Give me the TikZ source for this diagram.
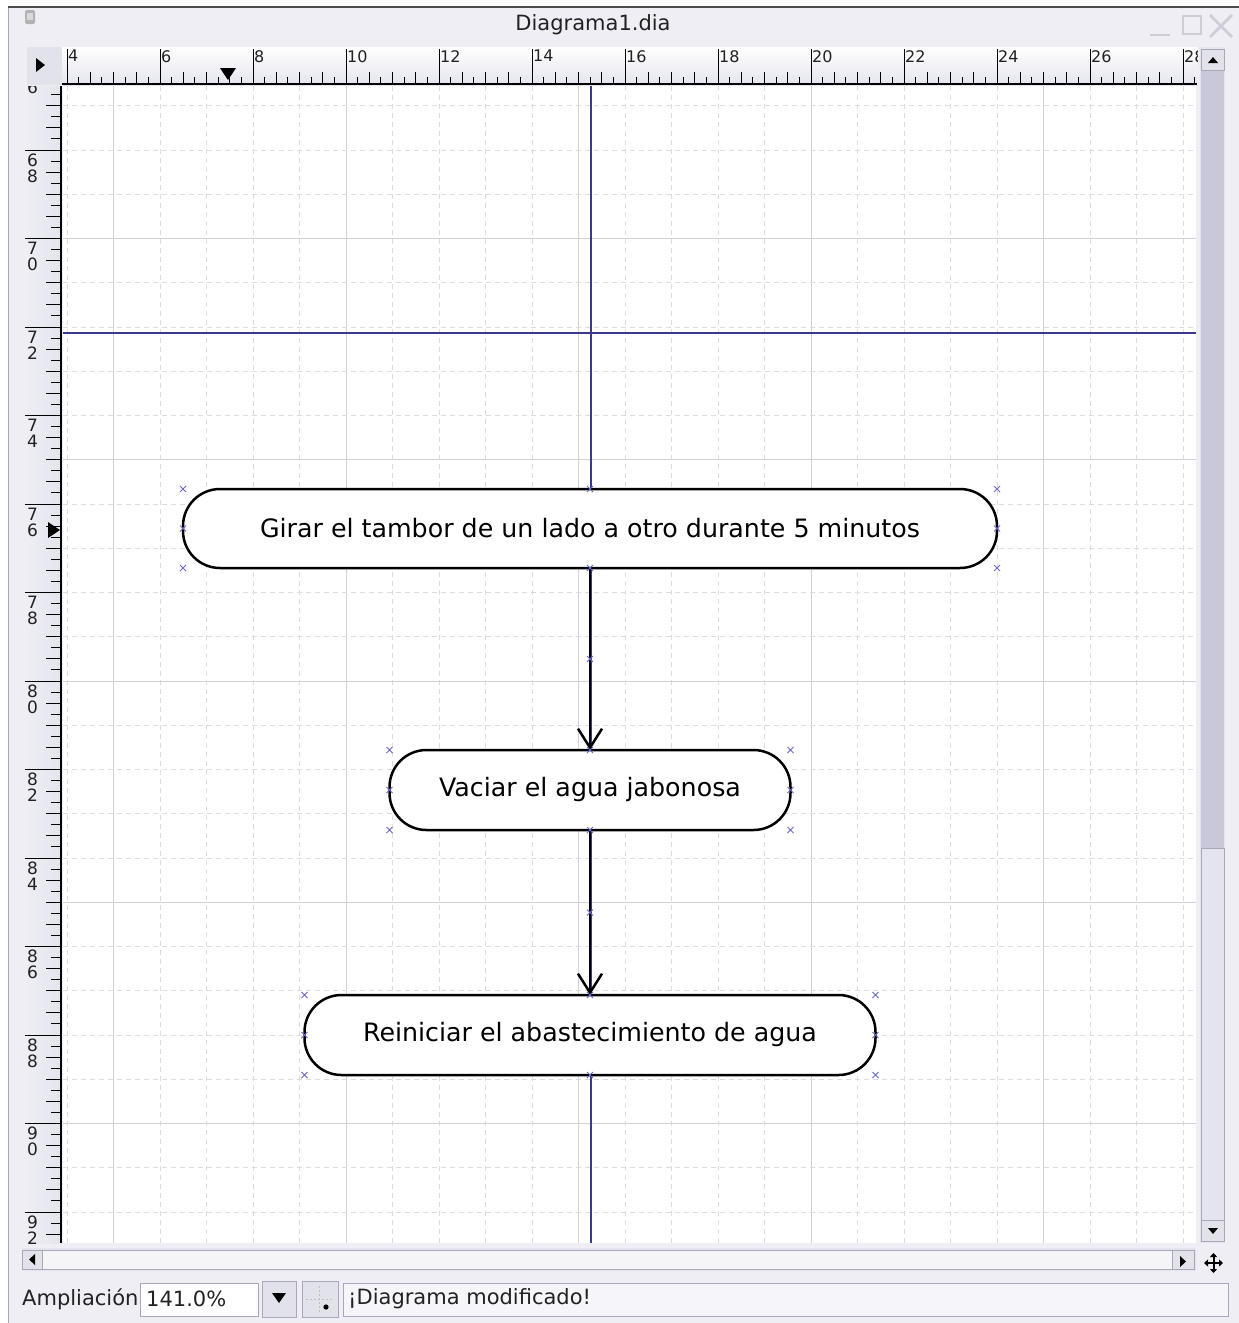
\documentclass[tikz,border=0pt]{standalone}
\usepackage{fontspec}
\setmainfont{DejaVu Sans}
\usetikzlibrary{arrows.meta,calc}

\definecolor{winbg}{HTML}{EEEEF4}
\definecolor{rulerbg}{HTML}{E4E4EE}
\definecolor{gridminorc}{HTML}{DCDCDC}
\definecolor{gridmajorc}{HTML}{D2D2D6}
\definecolor{guidec}{HTML}{3A3A88}
\definecolor{handlec}{HTML}{6A6AC8}
\definecolor{thumbc}{HTML}{C8C8DA}
\definecolor{troughc}{HTML}{E4E4EE}
\definecolor{btnc}{HTML}{E2E2EA}
\definecolor{framec}{HTML}{A8A8B8}
\definecolor{fadedc}{HTML}{CDCDD8}
\definecolor{uitext}{HTML}{222222}

\begin{document}
\begin{tikzpicture}[x=1pt,y=-1pt,
  flowbox/.style={draw=black, line width=2.5pt, fill=white, rounded corners=37pt,
    minimum height=79pt, inner sep=0pt, outer sep=0pt,
    font=\fontsize{25.3}{29}\selectfont, text=black},
  conn/.style={line width=2.5pt, -{Straight Barb[length=19pt,width=24pt,line width=2.5pt]}},
  rtick/.style={line width=1pt, black},
  rlabel/.style={inner sep=1pt, font=\fontsize{16}{16}\selectfont, text=uitext},
  vlabel/.style={inner sep=0pt, font=\fontsize{17}{17}\selectfont, text=uitext},
  gridminor/.style={gridminorc, line width=0.8pt, dash pattern=on 5pt off 4pt},
  gridmajor/.style={gridmajorc, line width=0.9pt},
  guide/.style={guidec, line width=1.2pt},
  handle/.style={handlec, line width=0.9pt},
  uilabel/.style={inner sep=0pt, font=\fontsize{21}{25}\selectfont, text=uitext},
  btn/.style={fill=btnc, draw=framec, line width=0.8pt},
  selx/.pic={\draw[handle] (-3,-3) -- (3,3) (-3,3) -- (3,-3);}
]
\useasboundingbox (0,0) rectangle (1239,1323);

% window background and frame
\fill[white] (0,0) rectangle (1239,1323);
\fill[winbg] (8,7) rectangle (1239,1323);
\draw[framec, line width=1pt] (8,1323) -- (8,7);
\draw[black!70, line width=1.2pt] (8,7) -- (1239,7);

% title bar
\fill[black!30, rounded corners=2pt] (25,10) rectangle (35,24);
\fill[black!15] (27,13) rectangle (33,20);
\node[uilabel] (title) at (593,25) {Diagrama1.dia};
\draw[fadedc, line width=2.5pt] (1150,35) -- (1170,35);
\draw[fadedc, line width=2.5pt] (1183,16) rectangle (1201,34);
\draw[fadedc, line width=2.5pt] (1210,15) -- (1232,37) (1232,15) -- (1210,37);

% canvas with grid
\begin{scope}
  \clip (63,86) rectangle (1196,1243);
  \fill[white] (63,86) rectangle (1196,1243);
  \foreach \u in {4,...,28} {
    \pgfmathsetmacro\xx{67+46.5*(\u-4)}
    \pgfmathtruncatemacro\m{mod(\u,5)}
    \ifnum\m=0
      \draw[gridmajor] (\xx,86) -- (\xx,1243);
    \else
      \draw[gridminor] (\xx,86) -- (\xx,1243);
    \fi
  }
  \foreach \u in {67,...,92} {
    \pgfmathsetmacro\yy{150+44.25*(\u-68)}
    \pgfmathtruncatemacro\m{mod(\u,5)}
    \ifnum\m=0
      \draw[gridmajor] (63,\yy) -- (1196,\yy);
    \else
      \draw[gridminor] (63,\yy) -- (1196,\yy);
    \fi
  }
  % guide lines
  \draw[guide] (591,86) -- (591,1243);
  \draw[guide] (63,333) -- (1196,333);
\end{scope}

% top ruler
\fill[btnc] (27,47) rectangle (62,85);
\fill[black] (36,58) -- (36,72) -- (45,65) -- cycle;
\begin{scope}
  \clip (62,47) rectangle (1197,85);
  \fill[top color=white, bottom color=rulerbg] (62,47) rectangle (1197,85);
  \foreach \i in {0,...,102} {
    \pgfmathsetmacro\xx{67+11.625*(\i-4)}
    \pgfmathtruncatemacro\mm{mod(\i,8)}
    \pgfmathtruncatemacro\mq{mod(\i,2)}
    \ifnum\mm=4
      \draw[rtick] (\xx,84) -- (\xx,49);
      \pgfmathtruncatemacro\lab{3+\i/4}
      \node[rlabel, anchor=north west] (top\i) at (\xx,49) {\lab};
    \else
      \ifnum\mq=0
        \draw[rtick] (\xx,84) -- (\xx,72);
      \else
        \draw[rtick] (\xx,84) -- (\xx,77);
      \fi
    \fi
  }
  \draw[line width=1.4pt] (62,84) -- (1197,84);
  \fill[black] (220,68) -- (236,68) -- (228,80) -- cycle;
\end{scope}

% left ruler
\begin{scope}
  \clip (22,86) rectangle (62,1243);
  \fill[left color=rulerbg!60, right color=rulerbg] (22,86) rectangle (62,1243);
  \foreach \j in {0,...,107} {
    \pgfmathsetmacro\yy{61.5+11.0625*\j}
    \pgfmathtruncatemacro\mm{mod(\j,8)}
    \pgfmathtruncatemacro\mq{mod(\j,2)}
    \ifnum\mm=0
      \draw[rtick] (61,\yy) -- (25,\yy);
      \pgfmathtruncatemacro\uu{66+\j/4}
      \pgfmathtruncatemacro\da{\uu/10}
      \pgfmathtruncatemacro\db{mod(\uu,10)}
      \node[vlabel] (lefta\j) at (32.5,\yy+10) {\da};
      \node[vlabel] (leftb\j) at (32.5,\yy+26) {\db};
    \else
      \ifnum\mq=0
        \draw[rtick] (61,\yy) -- (46,\yy);
      \else
        \draw[rtick] (61,\yy) -- (51,\yy);
      \fi
    \fi
  }
  \draw[line width=1.4pt] (61,86) -- (61,1243);
  \fill[black] (48,522) -- (48,538) -- (60,530) -- cycle;
\end{scope}

% vertical scrollbar
\fill[troughc] (1200,47) rectangle (1225,1243);
\fill[thumbc] (1201,70) rectangle (1224,848);
\draw[framec, line width=0.8pt] (1201,848) rectangle (1224,1220);
\draw[btn] (1201,49) rectangle (1224,70);
\fill[black] (1208,63) -- (1218,63) -- (1213,57) -- cycle;
\draw[btn] (1201,1220) rectangle (1224,1241);
\fill[black] (1208,1228) -- (1218,1228) -- (1213,1234) -- cycle;

% horizontal scrollbar
\fill[troughc] (22,1248) rectangle (1196,1271);
\draw[framec, line width=0.8pt, fill=winbg!60] (42,1250) rectangle (1172,1269);
\draw[btn] (22,1250) rectangle (42,1269);
\fill[black] (35,1254) -- (35,1265) -- (29,1259.5) -- cycle;
\draw[btn] (1172,1250) rectangle (1194,1269);
\fill[black] (1180,1256) -- (1180,1267) -- (1186,1261.5) -- cycle;
% move handle
\draw[line width=2pt, {Triangle[length=4pt,width=7pt]}-{Triangle[length=4pt,width=7pt]}] (1204,1263) -- (1223,1263);
\draw[line width=2pt, {Triangle[length=4pt,width=7pt]}-{Triangle[length=4pt,width=7pt]}] (1213.5,1253) -- (1213.5,1273);

% status bar
\node[uilabel, anchor=west] (zoomlbl) at (22,1299) {Ampliación};
\draw[fill=white, draw=framec, line width=0.8pt] (140,1283) rectangle (258,1316);
\node[uilabel, anchor=west] (zoomval) at (146,1299) {141.0\%};
\draw[btn] (262,1281) rectangle (296,1317);
\fill[black] (272,1293) -- (286,1293) -- (279,1303) -- cycle;
\draw[btn] (302,1281) rectangle (338,1317);
\draw[black!25, line width=1pt, dash pattern=on 2pt off 2pt] (319,1286) -- (319,1312) (306,1299) -- (334,1299);
\fill[black] (326,1307) circle (2.6);
\draw[fill=winbg!50, draw=framec, line width=0.8pt] (343,1283) rectangle (1228,1316);
\node[uilabel, anchor=west] (status) at (348,1299) {¡Diagrama modificado!};

% flowchart
\node[flowbox, minimum width=814pt] (n1) at (590,528.5) {Girar el tambor de un lado a otro durante 5 minutos};
\node[flowbox, minimum width=401pt, minimum height=80pt] (n2) at (590,790) {Vaciar el agua jabonosa};
\node[flowbox, minimum width=571pt, minimum height=80pt] (n3) at (590,1035) {Reiniciar el abastecimiento de agua};

\draw[conn] (n1.south) -- (n2.north);
\draw[conn] (n2.south) -- (n3.north);

% selection handles
\foreach \n in {n1,n2,n3} {
  \foreach \a in {north west,north,north east,west,east,south west,south,south east} {
    \pic at (\n.\a) {selx};
  }
}
\pic at ($(n1.south)!0.5!(n2.north)$) {selx};
\pic at ($(n2.south)!0.5!(n3.north)$) {selx};
\end{tikzpicture}
\end{document}
